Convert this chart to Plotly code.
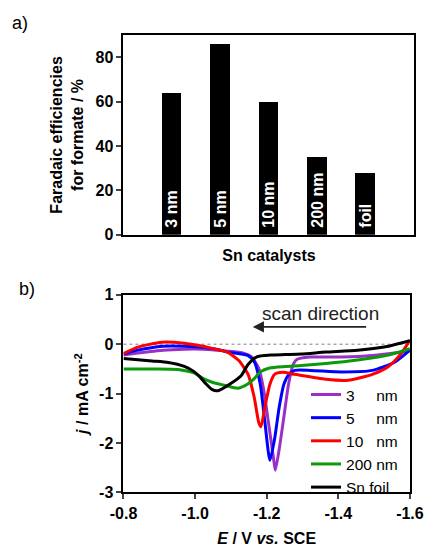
import plotly.graph_objects as go

# ---------- Panel a data ----------
catalysts = ["3 nm", "5 nm", "10 nm", "200 nm", "foil"]
fe_formate = [64, 86, 60, 35, 28]
fe_ticks = [0, 20, 40, 60, 80]

# ---------- Panel b data (LSV curves) ----------
E_3nm = [-0.80, -0.84, -0.91, -0.97, -1.02, -1.06, -1.09, -1.135, -1.157, -1.178, -1.192, -1.205,
         -1.218, -1.224, -1.235, -1.248, -1.261, -1.274, -1.284, -1.32, -1.41, -1.495, -1.566, -1.60]
j_3nm = [-0.22, -0.18, -0.12, -0.10, -0.10, -0.12, -0.14, -0.18, -0.25, -0.49, -0.94, -1.59,
         -2.25, -2.55, -2.12, -1.47, -0.81, -0.41, -0.31, -0.26, -0.26, -0.23, -0.17, -0.13]

E_5nm = [-0.80, -0.84, -0.91, -0.97, -1.02, -1.06, -1.09, -1.12, -1.148, -1.165, -1.182, -1.195,
         -1.209, -1.222, -1.235, -1.248, -1.261, -1.278, -1.323, -1.409, -1.495, -1.558, -1.60]
j_5nm = [-0.20, -0.12, -0.04, -0.04, -0.06, -0.10, -0.16, -0.19, -0.23, -0.35, -0.81, -1.58,
         -2.35, -1.92, -1.27, -0.81, -0.62, -0.53, -0.53, -0.56, -0.53, -0.36, -0.12]

E_10nm = [-0.80, -0.84, -0.907, -0.97, -1.022, -1.056, -1.09, -1.122, -1.148, -1.165, -1.178, -1.184,
          -1.195, -1.209, -1.222, -1.244, -1.278, -1.365, -1.427, -1.495, -1.54, -1.574, -1.60]
j_10nm = [-0.19, -0.06, 0.04, 0.02, -0.04, -0.10, -0.16, -0.33, -0.61, -1.07, -1.59, -1.67,
          -1.27, -0.81, -0.61, -0.57, -0.61, -0.71, -0.73, -0.61, -0.45, -0.20, 0.08]

E_200nm = [-0.80, -0.88, -0.952, -0.996, -1.022, -1.048, -1.082, -1.12, -1.148, -1.166, -1.182,
           -1.208, -1.252, -1.297, -1.365, -1.454, -1.54, -1.60]
j_200nm = [-0.50, -0.50, -0.51, -0.58, -0.69, -0.77, -0.83, -0.89, -0.80, -0.69, -0.56,
           -0.48, -0.45, -0.43, -0.39, -0.32, -0.22, -0.09]

E_foil = [-0.80, -0.88, -0.925, -0.97, -0.996, -1.012, -1.03, -1.048, -1.064, -1.09, -1.127,
          -1.148, -1.174, -1.21, -1.252, -1.297, -1.365, -1.454, -1.54, -1.60]
j_foil = [-0.29, -0.34, -0.37, -0.45, -0.55, -0.65, -0.80, -0.92, -0.94, -0.84, -0.65,
          -0.41, -0.25, -0.22, -0.21, -0.20, -0.16, -0.12, -0.04, 0.07]

E_ticks = [-0.8, -1.0, -1.2, -1.4, -1.6]
E_ticktext = ["-0.8", "-1.0", "-1.2", "-1.4", "-1.6"]
j_ticks = [-3, -2, -1, 0, 1]
j_ticktext = ["-3", "-2", "-1", "0", "1"]

NB = "\u00a0"
series = [
    ("3" + NB * 5 + "nm", E_3nm, j_3nm, "#9b30c8"),
    ("5" + NB * 5 + "nm", E_5nm, j_5nm, "#0000ff"),
    ("10" + NB * 3 + "nm", E_10nm, j_10nm, "#ff0000"),
    ("200 nm", E_200nm, j_200nm, "#0a9a0a"),
    ("Sn foil", E_foil, j_foil, "#000000"),
]

FONT = "Liberation Sans, Arial, sans-serif"

fig = go.Figure()

fig.add_trace(go.Bar(
    x=catalysts, y=fe_formate, width=0.41,
    marker=dict(color="black", line=dict(width=0)),
    text=[NB + c for c in catalysts], textposition="inside", insidetextanchor="start",
    textangle=-90, constraintext="none",
    textfont=dict(family=FONT, size=16, color="white", weight="bold"),
    xaxis="x", yaxis="y", showlegend=False, hoverinfo="skip",
))

for name, E, j, col in series:
    fig.add_trace(go.Scatter(
        x=E, y=j, mode="lines", name=name,
        line=dict(color=col, width=3, shape="spline", smoothing=0.6),
        xaxis="x2", yaxis="y2",
    ))

axis_common = dict(showline=True, linecolor="black", linewidth=2, mirror=True,
                   showgrid=False, zeroline=False,
                   tickfont=dict(family=FONT, size=16, color="black", weight="bold"))

fig.update_layout(
    width=437, height=547,
    margin=dict(l=0, r=0, t=0, b=0),
    paper_bgcolor="white", plot_bgcolor="white",
    font=dict(family=FONT, color="black"),
    bargap=0,
    xaxis=dict(domain=[0.2677, 0.979], anchor="y", range=[-1, 5],
               showticklabels=False, ticks="",
               title=dict(text="<b>Sn catalysts</b>", font=dict(size=16), standoff=14),
               **axis_common),
    yaxis=dict(domain=[0.5722, 0.9488], anchor="x", range=[0, 90],
               tickvals=fe_ticks, ticks="outside", ticklen=5, tickwidth=2,
               title=dict(text="<b>Faradaic efficiencies<br>for formate / %</b>",
                          font=dict(size=16), standoff=8),
               **axis_common),
    xaxis2=dict(domain=[0.2677, 0.968], anchor="y2", range=[-0.8, -1.6],
                tickvals=E_ticks, ticktext=E_ticktext, ticks="outside", ticklen=5, tickwidth=2,
                title=dict(text="<b><i>E</i> / V <i>vs.</i> SCE</b>", font=dict(size=16), standoff=13),
                **axis_common),
    yaxis2=dict(domain=[0.0859, 0.4589], anchor="x2", range=[-3, 1],
                tickvals=j_ticks, ticktext=j_ticktext, ticks="outside", ticklen=5, tickwidth=2,
                title=dict(text="<b><i>j</i> / mA cm<sup>-2</sup></b>", font=dict(size=16), standoff=6),
                **axis_common),
    legend=dict(x=0.714, y=0.302, xanchor="left", yanchor="top",
                font=dict(family=FONT, size=15.5, color="black"),
                bgcolor="rgba(0,0,0,0)", borderwidth=0, tracegroupgap=0),
    shapes=[dict(type="line", xref="x2 domain", yref="y2", x0=0, x1=1, y0=0, y1=0,
                 line=dict(color="gray", width=1, dash="dot"), layer="below")],
    annotations=[
        dict(text="a)", xref="paper", yref="paper", x=-4 / 437, y=1 - 15 / 547,
             xanchor="left", yanchor="middle", showarrow=False,
             font=dict(family=FONT, size=18, color="black")),
        dict(text="b)", xref="paper", yref="paper", x=3 / 437, y=1 - 290 / 547,
             xanchor="left", yanchor="middle", showarrow=False,
             font=dict(family=FONT, size=18, color="black")),
        dict(text="scan direction", xref="x2", yref="y2", x=-1.35, y=0.63,
             showarrow=False, font=dict(family=FONT, size=19, color="#222222")),
        dict(text="", xref="x2", yref="y2", x=-1.161, y=0.35,
             axref="x2", ayref="y2", ax=-1.482, ay=0.35,
             showarrow=True, arrowhead=2, arrowsize=1.4, arrowwidth=1.6, arrowcolor="#222222"),
    ],
)

fig.write_html("out.html")
